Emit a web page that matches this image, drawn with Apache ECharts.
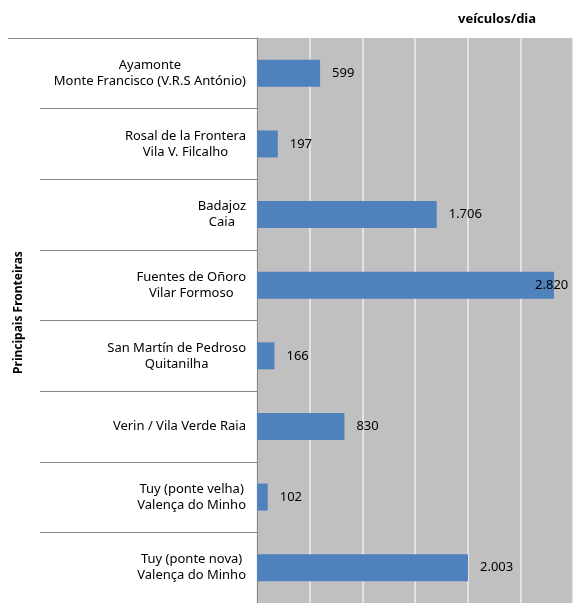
<!DOCTYPE html>
<html>
<head>
<meta charset="utf-8">
<script src="https://cdn.jsdelivr.net/npm/echarts@6/dist/echarts.min.js"></script>
<style>
  html, body { margin: 0; padding: 0; background: #fff; }
  #chart { width: 573px; height: 603px; }
</style>
</head>
<body>
<div id="chart"></div>
<script>
// fronteiras, de cima para baixo
const fronteiras = [
  'Ayamonte\nMonte Francisco (V.R.S António)',
  'Rosal de la Frontera\nVila V. Filcalho',
  'Badajoz\nCaia',
  'Fuentes de Oñoro\nVilar Formoso',
  'San Martín de Pedroso\nQuitanilha',
  'Verin / Vila Verde Raia',
  'Tuy (ponte velha)\nValença do Minho',
  'Tuy (ponte nova)\nValença do Minho'
]
const veiculos = [599, 197, 1706, 2820, 166, 830, 102, 2003]

const fonte = '"Noto Sans", sans-serif'
const fmt = v => v.toLocaleString('de-DE')

const chart = echarts.init(document.getElementById('chart'))

const option = {
  animation: false,
  title: {
    text: 'veículos/dia',
    left: 453,
    top: 8,
    textStyle: { fontFamily: fonte, fontSize: 13, fontWeight: 'bold', color: '#000' }
  },
  grid: {
    left: 257,
    top: 38,
    width: 319,
    height: 568,
    show: true,
    backgroundColor: '#c0c0c0',
    borderWidth: 0
  },
  xAxis: {
    type: 'value',
    min: 0,
    max: 3000,
    interval: 500,
    axisLine: { show: false },
    axisTick: { show: false },
    axisLabel: { show: false },
    splitLine: { show: true, lineStyle: { color: '#eeeeee', width: 1.5 } }
  },
  yAxis: {
    type: 'category',
    inverse: true,
    data: fronteiras,
    name: 'Principais Fronteiras',
    nameLocation: 'middle',
    nameRotate: 90,
    nameGap: 232,
    nameTextStyle: { fontFamily: fonte, fontSize: 12, fontWeight: 'bold', color: '#000', padding: [0, 0, 0, 16] },
    axisLine: { show: true, lineStyle: { color: '#888', width: 1 } },
    axisTick: { show: true, length: 217, interval: 0, lineStyle: { color: '#888', width: 1 } },
    axisLabel: {
      margin: 11,
      interval: 0,
      align: 'right',
      formatter: v => v.split('\n').map(s => '{c|' + s + '}').join('\n'),
      rich: {
        c: { align: 'center', fontFamily: fonte, fontSize: 13, lineHeight: 16, color: '#000' }
      }
    }
  },
  graphic: [
    { type: 'line', shape: { x1: 8, y1: 38.5, x2: 40, y2: 38.5 }, style: { stroke: '#888', lineWidth: 1 } }
  ],
  series: [{
    type: 'bar',
    data: veiculos.map(v => v === 2820 ? { value: v, label: { offset: [-31, 0] } } : v),
    barWidth: 27,
    itemStyle: { color: '#4f81bd' },
    label: {
      show: true,
      position: 'right',
      distance: 12,
      formatter: p => fmt(p.value),
      fontFamily: fonte,
      fontSize: 13,
      color: '#000'
    }
  }]
}

chart.setOption(option)
</script>
</body>
</html>
